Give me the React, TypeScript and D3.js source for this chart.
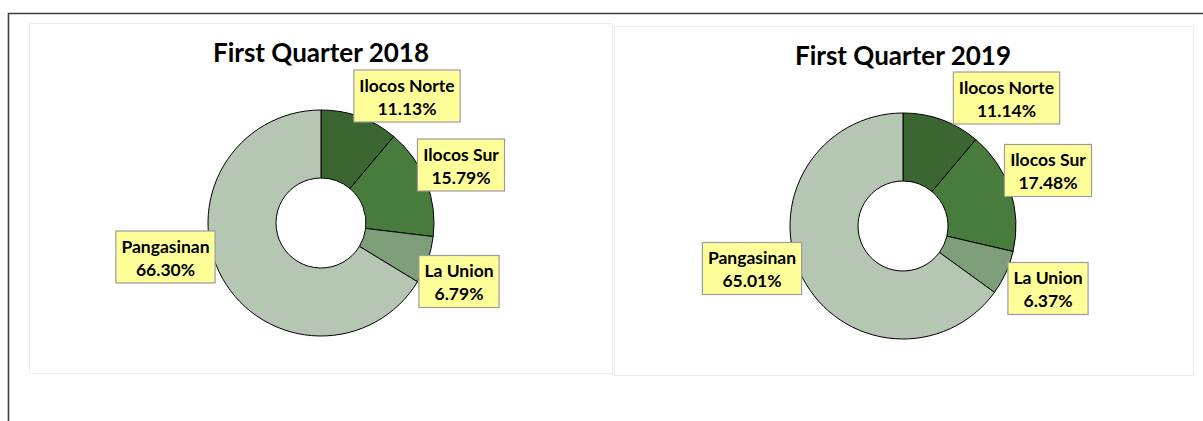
import React, { useEffect, useRef } from "react";
import * as d3 from "d3";

const categories = ["Ilocos Norte", "Ilocos Sur", "La Union", "Pangasinan"];
const values2018 = [11.13, 15.79, 6.79, 66.3];
const values2019 = [11.14, 17.48, 6.37, 65.01];
const titles = ["First Quarter 2018", "First Quarter 2019"];
const colors = ["#3b6632", "#477c3c", "#7d9e78", "#b5c6b3"];

// layout (label box centres relative to donut centre)
const labelOffsets2018 = [[86, -127], [140, -58], [138, 58.5], [-155.5, 34]];
const labelOffsets2019 = [[103.5, -128], [145, -55.5], [145, 62.5], [-151, 42.5]];

const panels = [
  { x: 29, y: 23, w: 583, h: 350, cx: 321, cy: 223, values: values2018, title: titles[0], offs: labelOffsets2018 },
  { x: 614, y: 26, w: 579, h: 349, cx: 903, cy: 226, values: values2019, title: titles[1], offs: labelOffsets2019 },
];

const FONT = "Lato, 'Open Sans', sans-serif";

export default function App() {
  const ref = useRef<SVGSVGElement>(null);
  useEffect(() => {
    document.body.style.margin = "0";
    const svg = d3.select(ref.current);
    svg.selectAll("*").remove();
    svg.append("rect").attr("width", 1203).attr("height", 421).attr("fill", "#fff");
    // outer frame
    svg.append("path").attr("d", "M8.5,421 V13.5 H1203").attr("fill", "none").attr("stroke", "#3f3f3f").attr("stroke-width", 1.6);

    const R = 113, r = 45;
    const arc = d3.arc<d3.PieArcDatum<number>>().innerRadius(r).outerRadius(R);
    const pie = d3.pie<number>().sort(null).value((d) => d);

    panels.forEach((p) => {
      svg.append("rect").attr("x", p.x + 0.5).attr("y", p.y + 0.5).attr("width", p.w).attr("height", p.h)
        .attr("fill", "#fff").attr("stroke", "#ebebeb").attr("stroke-width", 1);
      svg.append("text").attr("x", p.cx).attr("y", p.cy - 161).attr("text-anchor", "middle")
        .attr("font-family", FONT).attr("font-weight", 700).attr("font-size", 26).attr("fill", "#000").text(p.title);
      const g = svg.append("g").attr("transform", `translate(${p.cx},${p.cy})`);
      const arcs = pie(p.values);
      g.selectAll("path").data(arcs).enter().append("path").attr("d", arc as any)
        .attr("fill", (_d, i) => colors[i]).attr("stroke", "#000").attr("stroke-width", 1);
      arcs.forEach((a, i) => {
        const [ox, oy] = p.offs[i];
        const lg = g.append("g").attr("transform", `translate(${ox},${oy})`);
        const rect = lg.append("rect");
        const t = lg.append("text").attr("text-anchor", "middle").attr("font-family", FONT)
          .attr("font-weight", 700).attr("font-size", 17.5).attr("fill", "#000");
        t.append("tspan").attr("x", 0).attr("y", -4.5).text(categories[i]);
        t.append("tspan").attr("x", 0).attr("y", 18.5).text(p.values[i].toFixed(2) + "%");
        const bb = (t.node() as SVGTextElement).getBBox();
        const w = bb.width + 11;
        rect.attr("x", -w / 2).attr("y", -26).attr("width", w).attr("height", 52)
          .attr("fill", "#ffff99").attr("stroke", "#9c9c9c").attr("stroke-width", 1.2);
      });
    });
  }, []);
  return <svg ref={ref} width={1203} height={421} style={{ display: "block" }} />;
}
